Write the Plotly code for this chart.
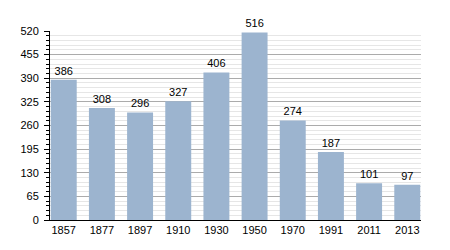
import plotly.graph_objects as go

years = ["1857", "1877", "1897", "1910", "1930", "1950", "1970", "1991", "2011", "2013"]
population = [386, 308, 296, 327, 406, 516, 274, 187, 101, 97]
y_ticks = [0, 65, 130, 195, 260, 325, 390, 455, 520]

fig = go.Figure()
fig.add_trace(go.Bar(
    x=list(range(len(years))),
    y=population,
    text=[str(v) for v in population],
    textposition="outside",
    textfont=dict(family="Liberation Sans, Arial", size=11, color="#000"),
    marker=dict(color="#9cb4cf", line=dict(width=0)),
    cliponaxis=False,
    width=0.68,
))

fig.update_layout(
    width=450, height=250,
    margin=dict(l=50, r=29, t=31, b=30),
    paper_bgcolor="white", plot_bgcolor="white",
    font=dict(family="Liberation Sans, Arial", size=11, color="#000"),
    showlegend=False,
    xaxis=dict(
        tickmode="array", tickvals=list(range(len(years))), ticktext=years,
        range=[-0.36, 9.36], showgrid=False, zeroline=False,
        showline=True, linecolor="#000", linewidth=1, ticks="",
    ),
    yaxis=dict(
        range=[0, 520], tickmode="array", tickvals=y_ticks,
        showgrid=True, gridcolor="#ababab", gridwidth=1,
        zeroline=False, showline=True, linecolor="#000", linewidth=1,
        ticks="outside", ticklen=5, tickcolor="#000",
        ticklabelstandoff=3,
        minor=dict(dtick=13, tick0=0, showgrid=True, gridcolor="#e6e6e6",
                   ticks="outside", ticklen=3, tickcolor="#000"),
    ),
)

fig.write_html("out.html")
